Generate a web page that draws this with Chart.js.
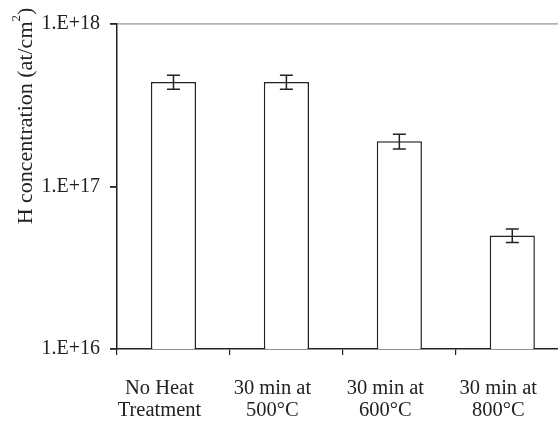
<!DOCTYPE html>
<html>
<head>
<meta charset="utf-8">
<script src="https://cdn.jsdelivr.net/npm/chart.js@4.4.1/dist/chart.umd.min.js"></script>
<style>
  html, body { margin: 0; padding: 0; background: #fff; overflow: hidden; }
  #wrap { position: relative; width: 573px; height: 421px; }
</style>
</head>
<body>
<div id="wrap"><canvas id="c" width="573" height="421"></canvas></div>
<script>
const categories = [
  ['No Heat', 'Treatment'],
  ['30 min at', '500\u00B0C'],
  ['30 min at', '600\u00B0C'],
  ['30 min at', '800\u00B0C']
];
const hConcentration = [4.4e17, 4.4e17, 1.9e17, 5.0e16];
const errorValues = [0.43e17, 0.43e17, 0.2e17, 0.48e16];
const yTickValues = [1e16, 1e17, 1e18];
const yTickLabels = ['1.E+16', '1.E+17', '1.E+18'];
const yAxisTitle = 'H concentration (at/cm';
const yAxisSup = '2';
const yAxisTail = ')';

const FONT = '"Liberation Serif", "Times New Roman", serif';

const errorBarPlugin = {
  id: 'errorBars',
  afterDatasetsDraw(chart) {
    const ctx = chart.ctx;
    const meta = chart.getDatasetMeta(0);
    const y = chart.scales.y;
    ctx.save();
    ctx.strokeStyle = '#222';
    ctx.lineWidth = 1.5;
    meta.data.forEach((bar, i) => {
      const v = hConcentration[i], e = errorValues[i];
      const yt = y.getPixelForValue(v + e);
      const yb = y.getPixelForValue(v - e);
      const x = bar.x, cap = 6.5;
      ctx.beginPath();
      ctx.moveTo(x, yt); ctx.lineTo(x, yb);
      ctx.moveTo(x - cap, yt); ctx.lineTo(x + cap, yt);
      ctx.moveTo(x - cap, yb); ctx.lineTo(x + cap, yb);
      ctx.stroke();
    });
    ctx.restore();
  }
};

const yTitlePlugin = {
  id: 'yTitle',
  afterDraw(chart) {
    const ctx = chart.ctx;
    ctx.save();
    ctx.translate(32, 116);
    ctx.rotate(-Math.PI / 2);
    ctx.fillStyle = '#222';
    ctx.textBaseline = 'alphabetic';
    ctx.font = '22px ' + FONT;
    const w1 = ctx.measureText(yAxisTitle).width;
    ctx.font = '13px ' + FONT;
    const w2 = ctx.measureText(yAxisSup).width;
    ctx.font = '22px ' + FONT;
    const w3 = ctx.measureText(yAxisTail).width;
    const total = w1 + w2 + w3;
    let x = -total / 2;
    ctx.textAlign = 'left';
    ctx.fillText(yAxisTitle, x, 0);
    x += w1;
    ctx.font = '13px ' + FONT;
    ctx.fillText(yAxisSup, x, -12);
    x += w2;
    ctx.font = '22px ' + FONT;
    ctx.fillText(yAxisTail, x, 0);
    ctx.restore();
  }
};

new Chart(document.getElementById('c'), {
  type: 'bar',
  data: {
    labels: categories,
    datasets: [{
      data: hConcentration,
      backgroundColor: '#ffffff',
      borderColor: '#222',
      borderWidth: 1.5,
      barPercentage: 0.4,
      categoryPercentage: 1.0
    }]
  },
  options: {
    responsive: false,
    animation: false,
    devicePixelRatio: 1,
    layout: { padding: { top: 24, left: 0, right: 0, bottom: 0 } },
    plugins: { legend: { display: false }, tooltip: { enabled: false } },
    scales: {
      x: {
        offset: true,
        grid: { display: true, offset: true, color: 'rgba(0,0,0,0)', tickColor: '#222', tickLength: 6, lineWidth: 1.2 },
        border: { display: true, color: '#222', width: 1.5 },
        ticks: { color: '#222', font: { family: FONT, size: 20.5, lineHeight: 1.1 }, padding: 22, labelOffset: -14, maxRotation: 0, autoSkip: false },
        afterFit(scale) { scale.height = 72; }
      },
      y: {
        type: 'logarithmic',
        min: 1e16,
        max: 1e18,
        afterBuildTicks(scale) { scale.ticks = yTickValues.map(v => ({ value: v, major: true })); },
        grid: {
          color: (c) => (c.tick && c.tick.value === 1e18) ? '#b3b3b3' : 'rgba(0,0,0,0)',
          lineWidth: 1.8,
          tickColor: '#222',
          tickLength: 7
        },
        border: { display: true, color: '#222', width: 1.5 },
        ticks: {
          color: '#222',
          font: { family: FONT, size: 20 },
          padding: 10,
          callback: (v) => { const i = yTickValues.indexOf(v); return i >= 0 ? yTickLabels[i] : ''; }
        },
        afterFit(scale) { scale.width = 117; }
      }
    }
  },
  plugins: [errorBarPlugin, yTitlePlugin]
});
</script>
</body>
</html>
